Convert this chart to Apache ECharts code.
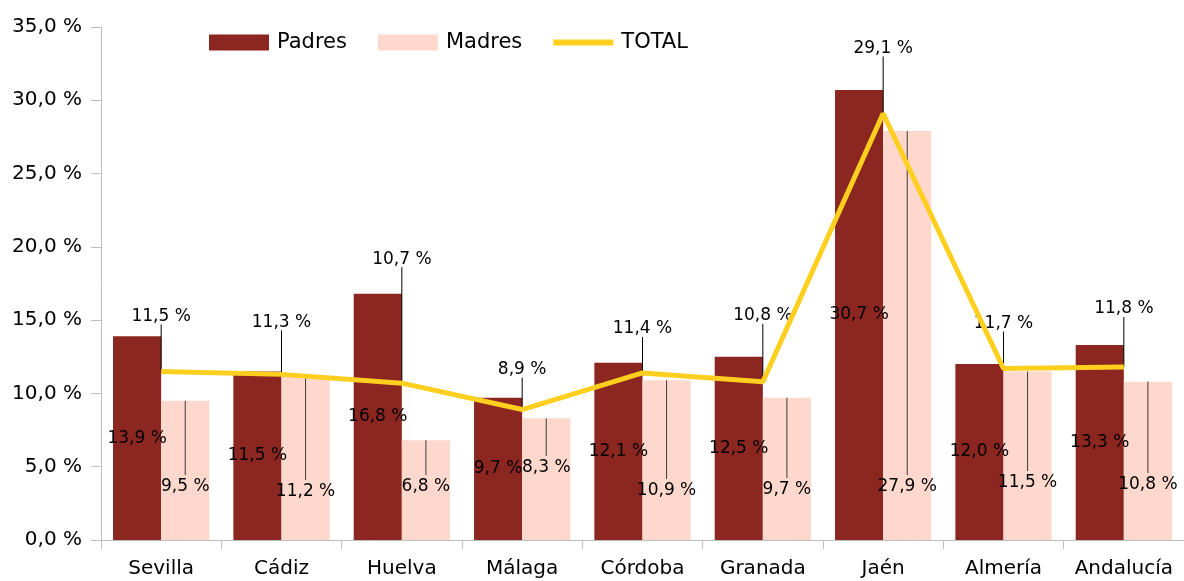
<!DOCTYPE html>
<html>
<head>
<meta charset="utf-8">
<script src="https://cdn.jsdelivr.net/npm/echarts@6/dist/echarts.min.js"></script>
<style>
  html, body { margin: 0; padding: 0; background: #fff; }
  #chart { width: 1184px; height: 581px; }
</style>
</head>
<body>
<div id="chart"></div>
<script>
const categories = ['Sevilla', 'Cádiz', 'Huelva', 'Málaga', 'Córdoba', 'Granada', 'Jaén', 'Almería', 'Andalucía']
const padres = [13.9, 11.5, 16.8, 9.7, 12.1, 12.5, 30.7, 12.0, 13.3]
const madres = [9.5, 11.2, 6.8, 8.3, 10.9, 9.7, 27.9, 11.5, 10.8]
const total = [11.5, 11.3, 10.7, 8.9, 11.4, 10.8, 29.1, 11.7, 11.8]

// label placement (px), like the hand-moved labels of the original
const madresLabelLift = [53, 48, 53, 72, 49, 50, 53, 57, 55]   // above the baseline
const totalLabelLift = [55, 52, 124, 40, 44, 66, 65, 45, 58]   // above the line point

const FONT = 'DejaVu Sans'
const fmt = v => v.toFixed(1).replace('.', ',') + ' %'

const chart = echarts.init(document.getElementById('chart'))

const option = {
  animation: false,
  textStyle: { fontFamily: FONT },
  grid: { left: 101, top: 27, width: 1085, height: 513 },
  legend: {
    data: [
      { name: 'Padres', icon: 'rect' },
      { name: 'Madres', icon: 'rect' },
      { name: 'TOTAL', icon: 'path://M0,0 L60,0 L60,6 L0,6 Z' }
    ],
    left: 204,
    top: 27,
    itemWidth: 60,
    itemHeight: 16,
    itemGap: 31,
    textStyle: { fontFamily: FONT, fontSize: 21, color: '#000', padding: [0, 0, 0, 3] }
  },
  xAxis: {
    type: 'category',
    data: categories,
    axisLine: { lineStyle: { color: '#bfbfbf', width: 1 } },
    axisTick: { show: true, interval: 0, length: 9, lineStyle: { color: '#bfbfbf' } },
    axisLabel: { color: '#000', fontSize: 20, margin: 19, interval: 0, fontFamily: FONT }
  },
  yAxis: {
    type: 'value',
    min: 0,
    max: 35,
    interval: 5,
    axisLine: { show: true, lineStyle: { color: '#bfbfbf', width: 1 } },
    axisTick: { show: true, length: 10, lineStyle: { color: '#bfbfbf' } },
    splitLine: { show: false },
    axisLabel: { color: '#000', fontSize: 20, margin: 19, fontFamily: FONT, formatter: v => fmt(v) }
  },
  series: [
    {
      name: 'Padres',
      type: 'bar',
      data: padres,
      barGap: '0%',
      barCategoryGap: '20%',
      itemStyle: { color: '#8b2720' },
      label: {
        show: true,
        position: 'inside',
        color: '#000',
        fontSize: 17,
        fontFamily: FONT,
        formatter: p => fmt(p.value)
      },
      z: 2
    },
    {
      name: 'Madres',
      type: 'bar',
      data: madres,
      itemStyle: { color: '#fed8cd' },
      z: 2
    },
    {
      // leader lines and labels for Madres and TOTAL
      type: 'custom',
      silent: true,
      z: 3,
      data: categories.map((c, i) => [i, madres[i], total[i]]),
      encode: { x: 0, y: 1 },
      renderItem: (params, api) => {
        const i = api.value(0)
        const band = api.size([1, 0])[0]
        const base = api.coord([i, 0])
        const mx = base[0] + band * 0.2
        const mTop = api.coord([i, api.value(1)])[1]
        const mLabelY = base[1] - madresLabelLift[i]
        const tx = base[0]
        const tY = api.coord([i, api.value(2)])[1]
        const tLabelY = tY - totalLabelLift[i]
        const txt = { fill: '#000', fontSize: 17, fontFamily: FONT, align: 'center', verticalAlign: 'middle' }
        return {
          type: 'group',
          children: [
            { type: 'line', shape: { x1: mx, y1: mTop, x2: mx, y2: mLabelY - 12 }, style: { stroke: '#3a3a3a', lineWidth: 1 } },
            { type: 'text', style: Object.assign({ x: mx, y: mLabelY, text: fmt(api.value(1)) }, txt) },
            { type: 'line', shape: { x1: tx, y1: tY, x2: tx, y2: tLabelY + 8 }, style: { stroke: '#000', lineWidth: 1 } },
            { type: 'text', style: Object.assign({ x: tx, y: tLabelY, text: fmt(api.value(2)) }, txt) }
          ]
        }
      }
    },
    {
      name: 'TOTAL',
      type: 'line',
      data: total,
      symbol: 'none',
      lineStyle: { color: '#ffcf1f', width: 5 },
      itemStyle: { color: '#ffcf1f' },
      z: 4
    }
  ]
}

chart.setOption(option)
</script>
</body>
</html>
